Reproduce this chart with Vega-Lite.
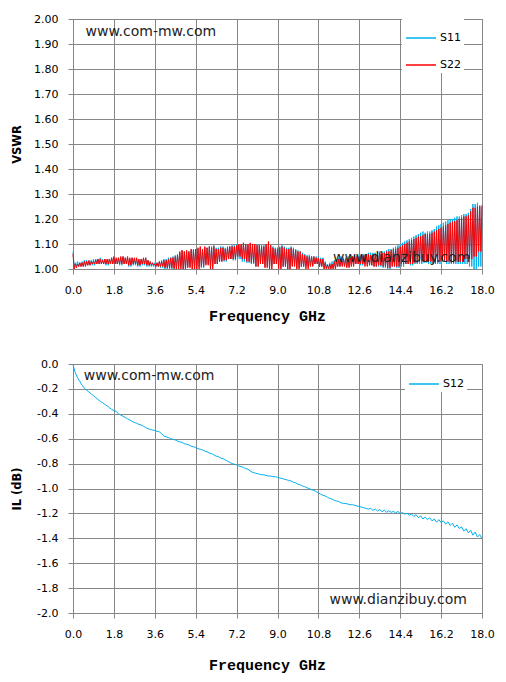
{
  "$schema": "https://vega.github.io/schema/vega-lite/v6.json",
  "background": "white",
  "padding": {"left": 10, "top": 12, "right": 5, "bottom": 5},
  "config": {
    "locale": {"number": {"decimal": ".", "thousands": ",", "grouping": [3], "currency": ["$", ""], "minus": "-"}},
    "view": {"stroke": "#868686", "strokeWidth": 1},
    "concat": {"spacing": 33},
    "axis": {
      "grid": true,
      "gridColor": "#868686",
      "gridWidth": 1,
      "domainColor": "#868686",
      "tickColor": "#868686",
      "tickSize": 5,
      "labelFont": "DejaVu Sans",
      "labelFontSize": 11,
      "labelColor": "#000",
      "labelPadding": 10,
      "labelOverlap": false,
      "labelFlush": false,
      "titleColor": "#000"
    },
    "axisX": {"labelAngle": 0, "tickCount": 11, "titleFont": "Liberation Mono", "titleFontSize": 15, "titleFontWeight": "bold", "titleX": 194},
    "axisY": {"tickCount": 11, "titleFont": "DejaVu Sans", "titleFontSize": 11.5, "titleFontWeight": "bold", "minExtent": 45, "maxExtent": 45, "titlePadding": 6},
    "legend": {
      "orient": "none",
      "title": null,
      "fillColor": "white",
      "padding": 3,
      "symbolType": "stroke",
      "symbolSize": 900,
      "symbolStrokeWidth": 1.5,
      "labelFont": "DejaVu Sans",
      "labelFontSize": 11,
      "labelColor": "#000",
      "labelOffset": 3,
      "rowPadding": 6
    }
  },
  "datasets": {
    "vswr": [
      {"f": 0.0, "S11": 1.07, "S22": 1.06}, {"f": 0.05, "S11": 1.01, "S22": 1.0},
      {"f": 0.1, "S11": 1.025, "S22": 1.02}, {"f": 0.15, "S11": 1.01, "S22": 1.005},
      {"f": 0.2, "S11": 1.03, "S22": 1.02}, {"f": 0.25, "S11": 1.01, "S22": 1.01},
      {"f": 0.3, "S11": 1.025, "S22": 1.025}, {"f": 0.35, "S11": 1.01, "S22": 1.01},
      {"f": 0.4, "S11": 1.03, "S22": 1.025}, {"f": 0.45, "S11": 1.01, "S22": 1.01},
      {"f": 0.5, "S11": 1.035, "S22": 1.03}, {"f": 0.55, "S11": 1.015, "S22": 1.01},
      {"f": 0.6, "S11": 1.035, "S22": 1.03}, {"f": 0.65, "S11": 1.015, "S22": 1.015},
      {"f": 0.7, "S11": 1.03, "S22": 1.035}, {"f": 0.75, "S11": 1.015, "S22": 1.015},
      {"f": 0.8, "S11": 1.035, "S22": 1.03}, {"f": 0.85, "S11": 1.015, "S22": 1.02},
      {"f": 0.9, "S11": 1.04, "S22": 1.03}, {"f": 0.95, "S11": 1.015, "S22": 1.02},
      {"f": 1.0, "S11": 1.04, "S22": 1.035}, {"f": 1.05, "S11": 1.02, "S22": 1.02},
      {"f": 1.1, "S11": 1.04, "S22": 1.04}, {"f": 1.15, "S11": 1.02, "S22": 1.02},
      {"f": 1.2, "S11": 1.045, "S22": 1.04}, {"f": 1.25, "S11": 1.02, "S22": 1.02},
      {"f": 1.3, "S11": 1.04, "S22": 1.035}, {"f": 1.35, "S11": 1.02, "S22": 1.02},
      {"f": 1.4, "S11": 1.04, "S22": 1.04}, {"f": 1.45, "S11": 1.015, "S22": 1.02},
      {"f": 1.5, "S11": 1.035, "S22": 1.04}, {"f": 1.55, "S11": 1.015, "S22": 1.02},
      {"f": 1.6, "S11": 1.04, "S22": 1.04}, {"f": 1.65, "S11": 1.02, "S22": 1.02},
      {"f": 1.7, "S11": 1.045, "S22": 1.045}, {"f": 1.75, "S11": 1.02, "S22": 1.02},
      {"f": 1.8, "S11": 1.045, "S22": 1.05}, {"f": 1.85, "S11": 1.02, "S22": 1.02},
      {"f": 1.9, "S11": 1.04, "S22": 1.045}, {"f": 1.95, "S11": 1.02, "S22": 1.02},
      {"f": 2.0, "S11": 1.045, "S22": 1.045}, {"f": 2.05, "S11": 1.015, "S22": 1.02},
      {"f": 2.1, "S11": 1.045, "S22": 1.05}, {"f": 2.15, "S11": 1.015, "S22": 1.02},
      {"f": 2.2, "S11": 1.05, "S22": 1.05}, {"f": 2.25, "S11": 1.02, "S22": 1.02},
      {"f": 2.3, "S11": 1.045, "S22": 1.045}, {"f": 2.35, "S11": 1.02, "S22": 1.02},
      {"f": 2.4, "S11": 1.045, "S22": 1.05}, {"f": 2.45, "S11": 1.01, "S22": 1.015},
      {"f": 2.5, "S11": 1.04, "S22": 1.045}, {"f": 2.55, "S11": 1.01, "S22": 1.015},
      {"f": 2.6, "S11": 1.045, "S22": 1.045}, {"f": 2.65, "S11": 1.015, "S22": 1.02},
      {"f": 2.7, "S11": 1.04, "S22": 1.045}, {"f": 2.75, "S11": 1.015, "S22": 1.02},
      {"f": 2.8, "S11": 1.04, "S22": 1.045}, {"f": 2.85, "S11": 1.01, "S22": 1.015},
      {"f": 2.9, "S11": 1.035, "S22": 1.04}, {"f": 2.95, "S11": 1.01, "S22": 1.015},
      {"f": 3.0, "S11": 1.04, "S22": 1.04}, {"f": 3.05, "S11": 1.015, "S22": 1.02},
      {"f": 3.1, "S11": 1.04, "S22": 1.045}, {"f": 3.15, "S11": 1.015, "S22": 1.02},
      {"f": 3.2, "S11": 1.045, "S22": 1.045}, {"f": 3.25, "S11": 1.01, "S22": 1.015},
      {"f": 3.3, "S11": 1.035, "S22": 1.035}, {"f": 3.35, "S11": 1.01, "S22": 1.015},
      {"f": 3.4, "S11": 1.03, "S22": 1.03}, {"f": 3.45, "S11": 1.01, "S22": 1.015},
      {"f": 3.5, "S11": 1.025, "S22": 1.025}, {"f": 3.55, "S11": 1.01, "S22": 1.015},
      {"f": 3.6, "S11": 1.025, "S22": 1.02}, {"f": 3.65, "S11": 1.01, "S22": 1.01},
      {"f": 3.7, "S11": 1.025, "S22": 1.025}, {"f": 3.75, "S11": 1.01, "S22": 1.01},
      {"f": 3.8, "S11": 1.03, "S22": 1.03}, {"f": 3.85, "S11": 1.005, "S22": 1.01},
      {"f": 3.9, "S11": 1.035, "S22": 1.03}, {"f": 3.95, "S11": 1.005, "S22": 1.01},
      {"f": 4.0, "S11": 1.04, "S22": 1.035}, {"f": 4.05, "S11": 1.0, "S22": 1.005},
      {"f": 4.1, "S11": 1.04, "S22": 1.035}, {"f": 4.15, "S11": 1.0, "S22": 1.005},
      {"f": 4.2, "S11": 1.045, "S22": 1.04}, {"f": 4.25, "S11": 1.0, "S22": 1.005},
      {"f": 4.3, "S11": 1.045, "S22": 1.045}, {"f": 4.35, "S11": 1.0, "S22": 1.005},
      {"f": 4.4, "S11": 1.05, "S22": 1.045}, {"f": 4.45, "S11": 1.005, "S22": 1.0},
      {"f": 4.5, "S11": 1.055, "S22": 1.05}, {"f": 4.55, "S11": 1.005, "S22": 1.0},
      {"f": 4.6, "S11": 1.06, "S22": 1.055}, {"f": 4.65, "S11": 1.01, "S22": 1.0},
      {"f": 4.7, "S11": 1.065, "S22": 1.07}, {"f": 4.75, "S11": 1.01, "S22": 1.0},
      {"f": 4.8, "S11": 1.075, "S22": 1.075}, {"f": 4.85, "S11": 1.0, "S22": 1.0},
      {"f": 4.9, "S11": 1.07, "S22": 1.07}, {"f": 4.95, "S11": 1.0, "S22": 1.0},
      {"f": 5.0, "S11": 1.07, "S22": 1.075}, {"f": 5.05, "S11": 1.01, "S22": 1.005},
      {"f": 5.1, "S11": 1.07, "S22": 1.07}, {"f": 5.15, "S11": 1.01, "S22": 1.005},
      {"f": 5.2, "S11": 1.075, "S22": 1.08}, {"f": 5.25, "S11": 1.0, "S22": 1.0},
      {"f": 5.3, "S11": 1.08, "S22": 1.075}, {"f": 5.35, "S11": 1.0, "S22": 1.0},
      {"f": 5.4, "S11": 1.08, "S22": 1.08}, {"f": 5.45, "S11": 1.01, "S22": 1.0},
      {"f": 5.5, "S11": 1.08, "S22": 1.085}, {"f": 5.55, "S11": 1.01, "S22": 1.0},
      {"f": 5.6, "S11": 1.085, "S22": 1.09}, {"f": 5.65, "S11": 1.005, "S22": 1.01},
      {"f": 5.7, "S11": 1.08, "S22": 1.08}, {"f": 5.75, "S11": 1.005, "S22": 1.01},
      {"f": 5.8, "S11": 1.085, "S22": 1.09}, {"f": 5.85, "S11": 1.02, "S22": 1.015},
      {"f": 5.9, "S11": 1.085, "S22": 1.085}, {"f": 5.95, "S11": 1.02, "S22": 1.015},
      {"f": 6.0, "S11": 1.09, "S22": 1.09}, {"f": 6.05, "S11": 1.01, "S22": 1.0},
      {"f": 6.1, "S11": 1.09, "S22": 1.085}, {"f": 6.15, "S11": 1.01, "S22": 1.0},
      {"f": 6.2, "S11": 1.095, "S22": 1.09}, {"f": 6.25, "S11": 1.02, "S22": 1.02},
      {"f": 6.3, "S11": 1.085, "S22": 1.08}, {"f": 6.35, "S11": 1.02, "S22": 1.02},
      {"f": 6.4, "S11": 1.085, "S22": 1.08}, {"f": 6.45, "S11": 1.03, "S22": 1.03},
      {"f": 6.5, "S11": 1.09, "S22": 1.085}, {"f": 6.55, "S11": 1.03, "S22": 1.03},
      {"f": 6.6, "S11": 1.09, "S22": 1.085}, {"f": 6.65, "S11": 1.03, "S22": 1.035},
      {"f": 6.7, "S11": 1.085, "S22": 1.08}, {"f": 6.75, "S11": 1.03, "S22": 1.035},
      {"f": 6.8, "S11": 1.09, "S22": 1.085}, {"f": 6.85, "S11": 1.04, "S22": 1.04},
      {"f": 6.9, "S11": 1.09, "S22": 1.09}, {"f": 6.95, "S11": 1.04, "S22": 1.04},
      {"f": 7.0, "S11": 1.095, "S22": 1.09}, {"f": 7.05, "S11": 1.035, "S22": 1.04},
      {"f": 7.1, "S11": 1.095, "S22": 1.09}, {"f": 7.15, "S11": 1.035, "S22": 1.04},
      {"f": 7.2, "S11": 1.1, "S22": 1.095}, {"f": 7.25, "S11": 1.04, "S22": 1.05},
      {"f": 7.3, "S11": 1.095, "S22": 1.1}, {"f": 7.35, "S11": 1.04, "S22": 1.05},
      {"f": 7.4, "S11": 1.095, "S22": 1.1}, {"f": 7.45, "S11": 1.03, "S22": 1.04},
      {"f": 7.5, "S11": 1.1, "S22": 1.105}, {"f": 7.55, "S11": 1.03, "S22": 1.04},
      {"f": 7.6, "S11": 1.1, "S22": 1.1}, {"f": 7.65, "S11": 1.025, "S22": 1.03},
      {"f": 7.7, "S11": 1.095, "S22": 1.1}, {"f": 7.75, "S11": 1.025, "S22": 1.03},
      {"f": 7.8, "S11": 1.1, "S22": 1.105}, {"f": 7.85, "S11": 1.02, "S22": 1.025},
      {"f": 7.9, "S11": 1.1, "S22": 1.1}, {"f": 7.95, "S11": 1.02, "S22": 1.025},
      {"f": 8.0, "S11": 1.095, "S22": 1.1}, {"f": 8.05, "S11": 1.01, "S22": 1.01},
      {"f": 8.1, "S11": 1.095, "S22": 1.095}, {"f": 8.15, "S11": 1.01, "S22": 1.01},
      {"f": 8.2, "S11": 1.1, "S22": 1.095}, {"f": 8.25, "S11": 1.02, "S22": 1.02},
      {"f": 8.3, "S11": 1.095, "S22": 1.09}, {"f": 8.35, "S11": 1.02, "S22": 1.02},
      {"f": 8.4, "S11": 1.095, "S22": 1.09}, {"f": 8.45, "S11": 1.01, "S22": 1.005},
      {"f": 8.5, "S11": 1.095, "S22": 1.1}, {"f": 8.55, "S11": 1.01, "S22": 1.005},
      {"f": 8.6, "S11": 1.1, "S22": 1.11}, {"f": 8.65, "S11": 1.01, "S22": 1.0},
      {"f": 8.7, "S11": 1.095, "S22": 1.095}, {"f": 8.75, "S11": 1.01, "S22": 1.0},
      {"f": 8.8, "S11": 1.09, "S22": 1.085}, {"f": 8.85, "S11": 1.02, "S22": 1.02},
      {"f": 8.9, "S11": 1.085, "S22": 1.08}, {"f": 8.95, "S11": 1.02, "S22": 1.02},
      {"f": 9.0, "S11": 1.085, "S22": 1.08}, {"f": 9.05, "S11": 1.005, "S22": 1.0},
      {"f": 9.1, "S11": 1.09, "S22": 1.085}, {"f": 9.15, "S11": 1.005, "S22": 1.0},
      {"f": 9.2, "S11": 1.095, "S22": 1.09}, {"f": 9.25, "S11": 1.01, "S22": 1.01},
      {"f": 9.3, "S11": 1.09, "S22": 1.085}, {"f": 9.35, "S11": 1.01, "S22": 1.01},
      {"f": 9.4, "S11": 1.085, "S22": 1.08}, {"f": 9.45, "S11": 1.0, "S22": 1.0},
      {"f": 9.5, "S11": 1.085, "S22": 1.08}, {"f": 9.55, "S11": 1.0, "S22": 1.0},
      {"f": 9.6, "S11": 1.09, "S22": 1.085}, {"f": 9.65, "S11": 1.015, "S22": 1.01},
      {"f": 9.7, "S11": 1.085, "S22": 1.08}, {"f": 9.75, "S11": 1.015, "S22": 1.01},
      {"f": 9.8, "S11": 1.08, "S22": 1.075}, {"f": 9.85, "S11": 1.005, "S22": 1.0},
      {"f": 9.9, "S11": 1.075, "S22": 1.07}, {"f": 9.95, "S11": 1.005, "S22": 1.0},
      {"f": 10.0, "S11": 1.07, "S22": 1.07}, {"f": 10.05, "S11": 1.01, "S22": 1.01},
      {"f": 10.1, "S11": 1.065, "S22": 1.06}, {"f": 10.15, "S11": 1.01, "S22": 1.01},
      {"f": 10.2, "S11": 1.06, "S22": 1.055}, {"f": 10.25, "S11": 1.01, "S22": 1.0},
      {"f": 10.3, "S11": 1.055, "S22": 1.05}, {"f": 10.35, "S11": 1.01, "S22": 1.0},
      {"f": 10.4, "S11": 1.055, "S22": 1.05}, {"f": 10.45, "S11": 1.015, "S22": 1.01},
      {"f": 10.5, "S11": 1.05, "S22": 1.05}, {"f": 10.55, "S11": 1.015, "S22": 1.01},
      {"f": 10.6, "S11": 1.05, "S22": 1.05}, {"f": 10.65, "S11": 1.02, "S22": 1.02},
      {"f": 10.7, "S11": 1.05, "S22": 1.045}, {"f": 10.75, "S11": 1.02, "S22": 1.02},
      {"f": 10.8, "S11": 1.05, "S22": 1.045}, {"f": 10.85, "S11": 1.01, "S22": 1.01},
      {"f": 10.9, "S11": 1.045, "S22": 1.04}, {"f": 10.95, "S11": 1.01, "S22": 1.01},
      {"f": 11.0, "S11": 1.045, "S22": 1.04}, {"f": 11.05, "S11": 1.005, "S22": 1.0},
      {"f": 11.1, "S11": 1.03, "S22": 1.025}, {"f": 11.15, "S11": 1.005, "S22": 1.0},
      {"f": 11.2, "S11": 1.02, "S22": 1.015}, {"f": 11.25, "S11": 1.0, "S22": 1.0},
      {"f": 11.3, "S11": 1.025, "S22": 1.02}, {"f": 11.35, "S11": 1.0, "S22": 1.0},
      {"f": 11.4, "S11": 1.03, "S22": 1.02}, {"f": 11.45, "S11": 1.005, "S22": 1.0},
      {"f": 11.5, "S11": 1.035, "S22": 1.03}, {"f": 11.55, "S11": 1.005, "S22": 1.0},
      {"f": 11.6, "S11": 1.04, "S22": 1.035}, {"f": 11.65, "S11": 1.01, "S22": 1.01},
      {"f": 11.7, "S11": 1.045, "S22": 1.04}, {"f": 11.75, "S11": 1.01, "S22": 1.01},
      {"f": 11.8, "S11": 1.05, "S22": 1.04}, {"f": 11.85, "S11": 1.015, "S22": 1.01},
      {"f": 11.9, "S11": 1.045, "S22": 1.04}, {"f": 11.95, "S11": 1.015, "S22": 1.01},
      {"f": 12.0, "S11": 1.045, "S22": 1.04}, {"f": 12.05, "S11": 1.01, "S22": 1.005},
      {"f": 12.1, "S11": 1.05, "S22": 1.04}, {"f": 12.15, "S11": 1.01, "S22": 1.005},
      {"f": 12.2, "S11": 1.05, "S22": 1.045}, {"f": 12.25, "S11": 1.02, "S22": 1.01},
      {"f": 12.3, "S11": 1.05, "S22": 1.05}, {"f": 12.35, "S11": 1.02, "S22": 1.01},
      {"f": 12.4, "S11": 1.055, "S22": 1.05}, {"f": 12.45, "S11": 1.02, "S22": 1.02},
      {"f": 12.5, "S11": 1.055, "S22": 1.05}, {"f": 12.55, "S11": 1.02, "S22": 1.02},
      {"f": 12.6, "S11": 1.06, "S22": 1.05}, {"f": 12.65, "S11": 1.015, "S22": 1.02},
      {"f": 12.7, "S11": 1.06, "S22": 1.05}, {"f": 12.75, "S11": 1.015, "S22": 1.02},
      {"f": 12.8, "S11": 1.06, "S22": 1.055}, {"f": 12.85, "S11": 1.02, "S22": 1.01},
      {"f": 12.9, "S11": 1.06, "S22": 1.06}, {"f": 12.95, "S11": 1.02, "S22": 1.01},
      {"f": 13.0, "S11": 1.065, "S22": 1.06}, {"f": 13.05, "S11": 1.015, "S22": 1.015},
      {"f": 13.1, "S11": 1.065, "S22": 1.055}, {"f": 13.15, "S11": 1.015, "S22": 1.015},
      {"f": 13.2, "S11": 1.065, "S22": 1.055}, {"f": 13.25, "S11": 1.01, "S22": 1.01},
      {"f": 13.3, "S11": 1.065, "S22": 1.06}, {"f": 13.35, "S11": 1.01, "S22": 1.01},
      {"f": 13.4, "S11": 1.07, "S22": 1.06}, {"f": 13.45, "S11": 1.01, "S22": 1.015},
      {"f": 13.5, "S11": 1.07, "S22": 1.065}, {"f": 13.55, "S11": 1.01, "S22": 1.015},
      {"f": 13.6, "S11": 1.07, "S22": 1.065}, {"f": 13.65, "S11": 1.005, "S22": 1.01},
      {"f": 13.7, "S11": 1.07, "S22": 1.065}, {"f": 13.75, "S11": 1.005, "S22": 1.01},
      {"f": 13.8, "S11": 1.075, "S22": 1.07}, {"f": 13.85, "S11": 1.0, "S22": 1.005},
      {"f": 13.9, "S11": 1.08, "S22": 1.07}, {"f": 13.95, "S11": 1.0, "S22": 1.005},
      {"f": 14.0, "S11": 1.08, "S22": 1.075}, {"f": 14.05, "S11": 1.01, "S22": 1.01},
      {"f": 14.1, "S11": 1.085, "S22": 1.08}, {"f": 14.15, "S11": 1.01, "S22": 1.01},
      {"f": 14.2, "S11": 1.09, "S22": 1.08}, {"f": 14.25, "S11": 1.005, "S22": 1.01},
      {"f": 14.3, "S11": 1.095, "S22": 1.085}, {"f": 14.35, "S11": 1.005, "S22": 1.01},
      {"f": 14.4, "S11": 1.1, "S22": 1.09}, {"f": 14.45, "S11": 1.01, "S22": 1.02},
      {"f": 14.5, "S11": 1.105, "S22": 1.095}, {"f": 14.55, "S11": 1.01, "S22": 1.02},
      {"f": 14.6, "S11": 1.11, "S22": 1.1}, {"f": 14.65, "S11": 1.02, "S22": 1.02},
      {"f": 14.7, "S11": 1.115, "S22": 1.105}, {"f": 14.75, "S11": 1.02, "S22": 1.02},
      {"f": 14.8, "S11": 1.12, "S22": 1.11}, {"f": 14.85, "S11": 1.015, "S22": 1.02},
      {"f": 14.9, "S11": 1.125, "S22": 1.115}, {"f": 14.95, "S11": 1.015, "S22": 1.02},
      {"f": 15.0, "S11": 1.13, "S22": 1.12}, {"f": 15.05, "S11": 1.02, "S22": 1.025},
      {"f": 15.1, "S11": 1.135, "S22": 1.125}, {"f": 15.15, "S11": 1.02, "S22": 1.025},
      {"f": 15.2, "S11": 1.14, "S22": 1.13}, {"f": 15.25, "S11": 1.02, "S22": 1.03},
      {"f": 15.3, "S11": 1.145, "S22": 1.13}, {"f": 15.35, "S11": 1.02, "S22": 1.03},
      {"f": 15.4, "S11": 1.15, "S22": 1.135}, {"f": 15.45, "S11": 1.025, "S22": 1.03},
      {"f": 15.5, "S11": 1.145, "S22": 1.14}, {"f": 15.55, "S11": 1.025, "S22": 1.03},
      {"f": 15.6, "S11": 1.15, "S22": 1.14}, {"f": 15.65, "S11": 1.02, "S22": 1.03},
      {"f": 15.7, "S11": 1.15, "S22": 1.14}, {"f": 15.75, "S11": 1.02, "S22": 1.03},
      {"f": 15.8, "S11": 1.155, "S22": 1.145}, {"f": 15.85, "S11": 1.02, "S22": 1.025},
      {"f": 15.9, "S11": 1.16, "S22": 1.15}, {"f": 15.95, "S11": 1.02, "S22": 1.025},
      {"f": 16.0, "S11": 1.17, "S22": 1.155}, {"f": 16.05, "S11": 1.02, "S22": 1.03},
      {"f": 16.1, "S11": 1.175, "S22": 1.16}, {"f": 16.15, "S11": 1.02, "S22": 1.03},
      {"f": 16.2, "S11": 1.18, "S22": 1.165}, {"f": 16.25, "S11": 1.03, "S22": 1.035},
      {"f": 16.3, "S11": 1.185, "S22": 1.17}, {"f": 16.35, "S11": 1.03, "S22": 1.035},
      {"f": 16.4, "S11": 1.19, "S22": 1.175}, {"f": 16.45, "S11": 1.02, "S22": 1.03},
      {"f": 16.5, "S11": 1.195, "S22": 1.18}, {"f": 16.55, "S11": 1.02, "S22": 1.03},
      {"f": 16.6, "S11": 1.2, "S22": 1.185}, {"f": 16.65, "S11": 1.02, "S22": 1.025},
      {"f": 16.7, "S11": 1.2, "S22": 1.19}, {"f": 16.75, "S11": 1.02, "S22": 1.025},
      {"f": 16.8, "S11": 1.205, "S22": 1.19}, {"f": 16.85, "S11": 1.02, "S22": 1.03},
      {"f": 16.9, "S11": 1.21, "S22": 1.195}, {"f": 16.95, "S11": 1.02, "S22": 1.03},
      {"f": 17.0, "S11": 1.21, "S22": 1.2}, {"f": 17.05, "S11": 1.02, "S22": 1.03},
      {"f": 17.1, "S11": 1.215, "S22": 1.205}, {"f": 17.15, "S11": 1.02, "S22": 1.03},
      {"f": 17.2, "S11": 1.22, "S22": 1.21}, {"f": 17.25, "S11": 1.02, "S22": 1.04},
      {"f": 17.3, "S11": 1.22, "S22": 1.21}, {"f": 17.35, "S11": 1.02, "S22": 1.04},
      {"f": 17.4, "S11": 1.225, "S22": 1.215}, {"f": 17.45, "S11": 1.01, "S22": 1.04},
      {"f": 17.5, "S11": 1.24, "S22": 1.23}, {"f": 17.55, "S11": 1.01, "S22": 1.04},
      {"f": 17.6, "S11": 1.26, "S22": 1.245}, {"f": 17.65, "S11": 1.0, "S22": 1.05},
      {"f": 17.7, "S11": 1.26, "S22": 1.245}, {"f": 17.75, "S11": 1.0, "S22": 1.05},
      {"f": 17.8, "S11": 1.265, "S22": 1.25}, {"f": 17.85, "S11": 1.01, "S22": 1.07},
      {"f": 17.9, "S11": 1.255, "S22": 1.25}, {"f": 17.95, "S11": 1.01, "S22": 1.07},
      {"f": 18.0, "S11": 1.25, "S22": 1.255}
    ],
    "il": [
      {"f": 0, "S12": -0.005}, {"f": 0.1, "S12": -0.07}, {"f": 0.2, "S12": -0.11}, {"f": 0.3, "S12": -0.14},
      {"f": 0.4, "S12": -0.17}, {"f": 0.5, "S12": -0.195}, {"f": 0.6, "S12": -0.21}, {"f": 0.7, "S12": -0.225},
      {"f": 0.8, "S12": -0.24}, {"f": 0.9, "S12": -0.255}, {"f": 1.0, "S12": -0.27}, {"f": 1.1, "S12": -0.285},
      {"f": 1.2, "S12": -0.3}, {"f": 1.3, "S12": -0.31}, {"f": 1.4, "S12": -0.325}, {"f": 1.5, "S12": -0.335},
      {"f": 1.6, "S12": -0.35}, {"f": 1.7, "S12": -0.365}, {"f": 1.8, "S12": -0.375}, {"f": 1.9, "S12": -0.38},
      {"f": 2.0, "S12": -0.4}, {"f": 2.1, "S12": -0.41}, {"f": 2.2, "S12": -0.42}, {"f": 2.3, "S12": -0.43},
      {"f": 2.4, "S12": -0.44}, {"f": 2.5, "S12": -0.45}, {"f": 2.6, "S12": -0.46}, {"f": 2.7, "S12": -0.47},
      {"f": 2.8, "S12": -0.475}, {"f": 2.9, "S12": -0.485}, {"f": 3.0, "S12": -0.49}, {"f": 3.1, "S12": -0.5},
      {"f": 3.2, "S12": -0.51}, {"f": 3.3, "S12": -0.52}, {"f": 3.4, "S12": -0.525}, {"f": 3.5, "S12": -0.53},
      {"f": 3.6, "S12": -0.535}, {"f": 3.7, "S12": -0.54}, {"f": 3.8, "S12": -0.545}, {"f": 3.9, "S12": -0.56},
      {"f": 4.0, "S12": -0.58}, {"f": 4.1, "S12": -0.585}, {"f": 4.2, "S12": -0.59}, {"f": 4.3, "S12": -0.6},
      {"f": 4.4, "S12": -0.605}, {"f": 4.5, "S12": -0.61}, {"f": 4.6, "S12": -0.62}, {"f": 4.7, "S12": -0.625},
      {"f": 4.8, "S12": -0.63}, {"f": 4.9, "S12": -0.64}, {"f": 5.0, "S12": -0.645}, {"f": 5.1, "S12": -0.65},
      {"f": 5.2, "S12": -0.66}, {"f": 5.3, "S12": -0.665}, {"f": 5.4, "S12": -0.67}, {"f": 5.5, "S12": -0.68},
      {"f": 5.6, "S12": -0.685}, {"f": 5.7, "S12": -0.69}, {"f": 5.8, "S12": -0.7}, {"f": 5.9, "S12": -0.705},
      {"f": 6.0, "S12": -0.715}, {"f": 6.1, "S12": -0.72}, {"f": 6.2, "S12": -0.73}, {"f": 6.3, "S12": -0.74},
      {"f": 6.4, "S12": -0.745}, {"f": 6.5, "S12": -0.755}, {"f": 6.6, "S12": -0.76}, {"f": 6.7, "S12": -0.77},
      {"f": 6.8, "S12": -0.78}, {"f": 6.9, "S12": -0.79}, {"f": 7.0, "S12": -0.8}, {"f": 7.1, "S12": -0.805},
      {"f": 7.2, "S12": -0.81}, {"f": 7.3, "S12": -0.82}, {"f": 7.4, "S12": -0.825}, {"f": 7.5, "S12": -0.83},
      {"f": 7.6, "S12": -0.84}, {"f": 7.7, "S12": -0.845}, {"f": 7.8, "S12": -0.86}, {"f": 7.9, "S12": -0.87},
      {"f": 8.0, "S12": -0.875}, {"f": 8.1, "S12": -0.88}, {"f": 8.2, "S12": -0.885}, {"f": 8.3, "S12": -0.89},
      {"f": 8.4, "S12": -0.89}, {"f": 8.5, "S12": -0.895}, {"f": 8.6, "S12": -0.9}, {"f": 8.7, "S12": -0.9},
      {"f": 8.8, "S12": -0.905}, {"f": 8.9, "S12": -0.905}, {"f": 9.0, "S12": -0.91}, {"f": 9.1, "S12": -0.915},
      {"f": 9.2, "S12": -0.92}, {"f": 9.3, "S12": -0.925}, {"f": 9.4, "S12": -0.93}, {"f": 9.5, "S12": -0.935},
      {"f": 9.6, "S12": -0.94}, {"f": 9.7, "S12": -0.95}, {"f": 9.8, "S12": -0.955}, {"f": 9.9, "S12": -0.965},
      {"f": 10.0, "S12": -0.97}, {"f": 10.1, "S12": -0.98}, {"f": 10.2, "S12": -0.985}, {"f": 10.3, "S12": -0.995},
      {"f": 10.4, "S12": -1.0}, {"f": 10.5, "S12": -1.01}, {"f": 10.6, "S12": -1.015}, {"f": 10.7, "S12": -1.025},
      {"f": 10.8, "S12": -1.035}, {"f": 10.9, "S12": -1.045}, {"f": 11.0, "S12": -1.055}, {"f": 11.1, "S12": -1.06},
      {"f": 11.2, "S12": -1.07}, {"f": 11.3, "S12": -1.08}, {"f": 11.4, "S12": -1.085}, {"f": 11.5, "S12": -1.095},
      {"f": 11.6, "S12": -1.1}, {"f": 11.7, "S12": -1.105}, {"f": 11.8, "S12": -1.115}, {"f": 11.9, "S12": -1.12},
      {"f": 12.0, "S12": -1.12}, {"f": 12.1, "S12": -1.125}, {"f": 12.2, "S12": -1.13}, {"f": 12.3, "S12": -1.13},
      {"f": 12.4, "S12": -1.135}, {"f": 12.5, "S12": -1.14}, {"f": 12.6, "S12": -1.145}, {"f": 12.7, "S12": -1.15},
      {"f": 12.8, "S12": -1.155}, {"f": 12.9, "S12": -1.16}, {"f": 13.0, "S12": -1.166}, {"f": 13.1, "S12": -1.159},
      {"f": 13.2, "S12": -1.176}, {"f": 13.3, "S12": -1.164}, {"f": 13.4, "S12": -1.181}, {"f": 13.5, "S12": -1.169},
      {"f": 13.6, "S12": -1.186}, {"f": 13.7, "S12": -1.174}, {"f": 13.8, "S12": -1.191}, {"f": 13.9, "S12": -1.179},
      {"f": 14.0, "S12": -1.191}, {"f": 14.1, "S12": -1.184}, {"f": 14.2, "S12": -1.196}, {"f": 14.3, "S12": -1.184},
      {"f": 14.4, "S12": -1.201}, {"f": 14.5, "S12": -1.194}, {"f": 14.6, "S12": -1.206}, {"f": 14.7, "S12": -1.199},
      {"f": 14.8, "S12": -1.216}, {"f": 14.9, "S12": -1.204}, {"f": 15.0, "S12": -1.225}, {"f": 15.1, "S12": -1.21},
      {"f": 15.2, "S12": -1.235}, {"f": 15.3, "S12": -1.22}, {"f": 15.4, "S12": -1.245}, {"f": 15.5, "S12": -1.23},
      {"f": 15.6, "S12": -1.25}, {"f": 15.7, "S12": -1.235}, {"f": 15.8, "S12": -1.26}, {"f": 15.9, "S12": -1.245},
      {"f": 16.0, "S12": -1.27}, {"f": 16.1, "S12": -1.25}, {"f": 16.2, "S12": -1.275}, {"f": 16.3, "S12": -1.26},
      {"f": 16.4, "S12": -1.285}, {"f": 16.5, "S12": -1.268}, {"f": 16.6, "S12": -1.297}, {"f": 16.7, "S12": -1.278},
      {"f": 16.8, "S12": -1.312}, {"f": 16.9, "S12": -1.293}, {"f": 17.0, "S12": -1.322}, {"f": 17.1, "S12": -1.308},
      {"f": 17.2, "S12": -1.342}, {"f": 17.3, "S12": -1.323}, {"f": 17.4, "S12": -1.357}, {"f": 17.5, "S12": -1.335},
      {"f": 17.6, "S12": -1.375}, {"f": 17.7, "S12": -1.35}, {"f": 17.8, "S12": -1.39}, {"f": 17.9, "S12": -1.37},
      {"f": 18.0, "S12": -1.405}
    ]
  },
  "vconcat": [
    {
      "width": 409,
      "height": 250,
      "layer": [
        {
          "data": {"name": "vswr"},
          "transform": [{"fold": ["S11", "S22"], "as": ["s", "v"]}],
          "mark": {"type": "line", "strokeWidth": 1},
          "encoding": {
            "x": {
              "field": "f",
              "type": "quantitative",
              "scale": {"domain": [0, 18], "nice": false},
              "axis": {"values": [0, 1.8, 3.6, 5.4, 7.2, 9, 10.8, 12.6, 14.4, 16.2, 18], "format": ".1f", "title": "Frequency GHz", "titlePadding": 13}
            },
            "y": {
              "field": "v",
              "type": "quantitative",
              "scale": {"domain": [1, 2], "nice": false},
              "axis": {"values": [1, 1.1, 1.2, 1.3, 1.4, 1.5, 1.6, 1.7, 1.8, 1.9, 2], "format": ".2f", "title": "VSWR"}
            },
            "color": {
              "field": "s",
              "type": "nominal",
              "scale": {"domain": ["S11", "S22"], "range": ["#00B0F0", "#FF0000"]},
              "legend": {"legendX": 329, "legendY": 0}
            }
          }
        },
        {
          "data": {"values": [{"t": "www.com-mw.com"}]},
          "mark": {"type": "text", "align": "left", "baseline": "middle", "font": "DejaVu Sans", "fontSize": 14, "color": "#222"},
          "encoding": {
            "x": {"datum": 0.55, "type": "quantitative"},
            "y": {"datum": 1.949, "type": "quantitative"},
            "text": {"field": "t"}
          }
        },
        {
          "data": {"values": [{"t": "www.dianzibuy.com"}]},
          "mark": {"type": "text", "align": "left", "baseline": "middle", "font": "DejaVu Sans", "fontSize": 14, "color": "#222"},
          "encoding": {
            "x": {"datum": 11.44, "type": "quantitative"},
            "y": {"datum": 1.045, "type": "quantitative"},
            "text": {"field": "t"}
          }
        }
      ]
    },
    {
      "width": 409,
      "height": 249,
      "layer": [
        {
          "data": {"name": "il"},
          "transform": [{"fold": ["S12"], "as": ["s", "v"]}],
          "mark": {"type": "line", "strokeWidth": 1},
          "encoding": {
            "x": {
              "field": "f",
              "type": "quantitative",
              "scale": {"domain": [0, 18], "nice": false},
              "axis": {"values": [0, 1.8, 3.6, 5.4, 7.2, 9, 10.8, 12.6, 14.4, 16.2, 18], "format": ".1f", "title": "Frequency GHz", "titlePadding": 18}
            },
            "y": {
              "field": "v",
              "type": "quantitative",
              "scale": {"domain": [-2, 0], "nice": false},
              "axis": {"values": [-2, -1.8, -1.6, -1.4, -1.2, -1, -0.8, -0.6, -0.4, -0.2, 0], "format": ".1f", "title": "IL (dB)"}
            },
            "color": {
              "field": "s",
              "type": "nominal",
              "scale": {"domain": ["S12"], "range": ["#00B0F0"]},
              "legend": {"legendX": 332, "legendY": 1}
            }
          }
        },
        {
          "data": {"values": [{"t": "www.com-mw.com"}]},
          "mark": {"type": "text", "align": "left", "baseline": "middle", "font": "DejaVu Sans", "fontSize": 14, "color": "#222"},
          "encoding": {
            "x": {"datum": 0.475, "type": "quantitative"},
            "y": {"datum": -0.094, "type": "quantitative"},
            "text": {"field": "t"}
          }
        },
        {
          "data": {"values": [{"t": "www.dianzibuy.com"}]},
          "mark": {"type": "text", "align": "left", "baseline": "middle", "font": "DejaVu Sans", "fontSize": 14, "color": "#222"},
          "encoding": {
            "x": {"datum": 11.29, "type": "quantitative"},
            "y": {"datum": -1.898, "type": "quantitative"},
            "text": {"field": "t"}
          }
        }
      ]
    }
  ],
  "resolve": {"scale": {"color": "independent"}}
}
